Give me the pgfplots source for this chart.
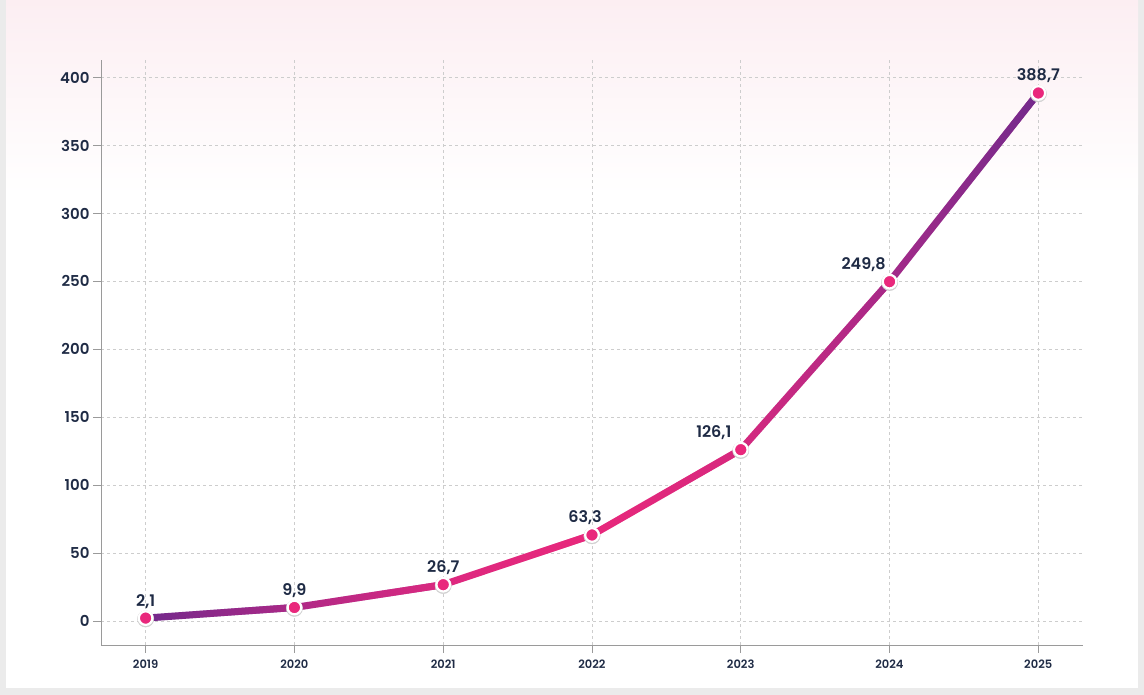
\documentclass[border=0pt]{standalone}
\usepackage{fontspec}
\setmainfont{Poppins}[BoldFont=* SemiBold]
\usepackage{pgfplots}
\pgfplotsset{compat=1.18}
\usepackage{pgfplotstable}
\usetikzlibrary{fadings}

\definecolor{c0}{HTML}{722A8C}
\definecolor{c1}{HTML}{AE2987}
\definecolor{c2}{HTML}{DD2980}
\definecolor{c3}{HTML}{E9287C}
\definecolor{c4}{HTML}{D6297F}
\definecolor{c5}{HTML}{A52A89}
\definecolor{c6}{HTML}{722A8C}
\definecolor{pinkc}{HTML}{E9287C}
\definecolor{txt}{HTML}{1F2B45}
\definecolor{gridc}{HTML}{CDCDCD}
\definecolor{axisc}{HTML}{9A9A9A}
\definecolor{bgray}{HTML}{EBEBEB}
\definecolor{toppink}{HTML}{FCEEF2}
\definecolor{shad}{HTML}{D0D0D0}

\tikzfading[name=fadeR, left color=transparent!100, right color=transparent!0]

\pgfplotstableread{
x y dx
2019 2.1 0
2020 9.9 0
2021 26.7 0
2022 63.3 -7
2023 126.1 -27
2024 249.8 -26
2025 388.7 0
}\datatable

\pgfplotsset{
  seg/.style={draw=#1, line width=7pt, line cap=round, line join=round, forget plot},
  segfade/.style={draw=#1, line width=7pt, line cap=butt, path fading=fadeR, fit fading=true, forget plot},
}

\begin{document}
\begin{tikzpicture}[x=1pt,y=1pt]
\useasboundingbox (0,0) rectangle (1144,695);
\fill[bgray] (0,0) rectangle (1144,695);
\fill[white] (6,7) rectangle (1138,695);
\shade[top color=toppink, bottom color=white] (6,500) rectangle (1138,695);
\begin{axis}[
  at={(101pt,50pt)}, anchor=south west, scale only axis,
  width=982pt, height=585pt,
  xmin=2018.7, xmax=2025.3, ymin=-17.7, ymax=413,
  axis x line*=bottom, axis y line*=left,
  axis line style={axisc, line width=0.8pt, -},
  xtick={2019,...,2025}, ytick={0,50,...,400},
  tick align=outside, major tick length=8pt,
  tick style={axisc, line width=0.8pt},
  grid=major, grid style={gridc, dashed, line width=0.6pt},
  /pgf/number format/assume math mode=true,
  /pgf/number format/1000 sep={},
  xticklabel style={font=\fontsize{11.5}{13}\selectfont\bfseries, text=txt, yshift=-3pt},
  yticklabel style={font=\fontsize{15}{17}\selectfont\bfseries, text=txt},
  clip=false,
]
% line segments with colour transitions
\addplot[seg=c0] coordinates {(2019,2.1) (2020,9.9)};
\addplot[segfade=c1] coordinates {(2019,2.1) (2020,9.9)};
\addplot[seg=c1] coordinates {(2020,9.9) (2021,26.7)};
\addplot[segfade=c2] coordinates {(2020,9.9) (2021,26.7)};
\addplot[seg=c2] coordinates {(2021,26.7) (2022,63.3)};
\addplot[segfade=c3] coordinates {(2021,26.7) (2022,63.3)};
\addplot[seg=c3] coordinates {(2022,63.3) (2023,126.1)};
\addplot[segfade=c4] coordinates {(2022,63.3) (2023,126.1)};
\addplot[seg=c4] coordinates {(2023,126.1) (2024,249.8)};
\addplot[segfade=c5] coordinates {(2023,126.1) (2024,249.8)};
\addplot[seg=c5] coordinates {(2024,249.8) (2025,388.7)};
\addplot[segfade=c6] coordinates {(2024,249.8) (2025,388.7)};
% marker shadows
\addplot[only marks, color=shad, mark=*, mark size=8.2pt,
  mark options={draw=none, fill=shad, yshift=-0.8pt}] table[x=x, y=y] {\datatable};
% markers and labels
\addplot[only marks, color=white, mark=*, mark size=6.8pt,
  mark options={fill=pinkc, draw=white, line width=2.2pt},
  visualization depends on={\thisrow{dx} \as \dx},
  nodes near coords={\pgfmathprintnumber[fixed, precision=1, fixed zerofill, use comma, assume math mode=true]{\pgfplotspointmeta}},
  every node near coord/.append style={anchor=base, inner sep=0pt, yshift=12pt, xshift=\dx pt,
    font=\fontsize{16}{18}\selectfont\bfseries, text=txt},
] table[x=x, y=y] {\datatable};
\end{axis}
\end{tikzpicture}
\end{document}
